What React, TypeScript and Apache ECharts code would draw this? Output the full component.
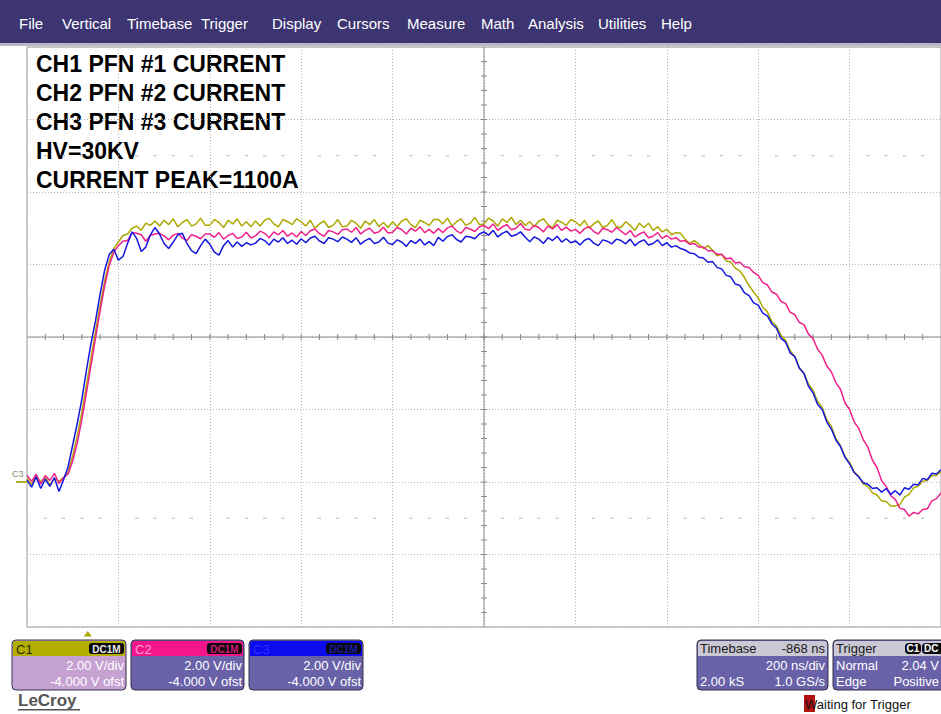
import React, { useEffect, useRef } from "react";
import * as echarts from "echarts";

// ---- sampling / axes ----
const T_STEP_NS = 10; // one sample every 10 ns, t = 0 .. 2000 ns (200 ns/div x 10 div)
const X_MIN = 0;
const X_MAX = 2000;
const X_DIV = 200;
const Y_MIN = -4; // 2 V/div, -4 V offset -> -4 .. 12 V
const Y_MAX = 12;
const Y_DIV = 2;
const X_CENTER = 1000;
const Y_CENTER = 4;
const TRIGGER_T = 133;
const DOT_ROWS = [9, -1];

// ---- channel traces (volts), one value per 10 ns ----
const C1_VALUES = [
  0.1, -0.06, 0.16, 0.0, 0.14, -0.08, 0.1, 0.02, 0.12, 0.28,
  0.72, 1.28, 1.92, 2.66, 3.42, 4.16, 4.88, 5.56, 6.08, 6.44,
  6.62, 6.8, 6.84, 7.0, 7.06, 6.94, 7.14, 7.08, 7.2, 7.06,
  7.22, 7.1, 7.26, 7.04, 7.16, 7.24, 7.06, 7.12, 7.28, 7.08,
  7.08, 7.24, 7.16, 7.02, 7.22, 7.12, 7.26, 7.06, 7.18, 7.04,
  7.2, 7.06, 7.22, 7.28, 7.12, 7.04, 7.24, 7.18, 7.1, 7.26,
  7.18, 7.06, 7.22, 7.0, 7.12, 7.2, 7.02, 7.08, 7.24, 7.04,
  7.06, 7.22, 7.14, 7.0, 7.2, 7.1, 7.24, 7.04, 7.16, 7.02,
  7.18, 7.04, 7.2, 7.26, 7.1, 7.02, 7.22, 7.16, 7.08, 7.24,
  7.24, 7.12, 7.28, 7.06, 7.18, 7.26, 7.08, 7.14, 7.3, 7.1,
  7.12, 7.28, 7.2, 7.06, 7.26, 7.16, 7.3, 7.1, 7.22, 7.08,
  7.18, 7.04, 7.2, 7.26, 7.1, 7.02, 7.22, 7.16, 7.08, 7.24,
  7.18, 7.06, 7.22, 7.0, 7.12, 7.2, 7.02, 7.08, 7.24, 7.04,
  7.02, 7.18, 7.08, 6.94, 7.14, 7.02, 7.14, 6.94, 7.04, 6.9,
  6.97, 6.82, 6.88, 6.86, 6.7, 6.58, 6.66, 6.56, 6.44, 6.52,
  6.4, 6.24, 6.28, 6.1, 6.06, 5.9, 5.82, 5.64, 5.42, 5.24,
  5.08, 4.82, 4.7, 4.42, 4.3, 4.04, 3.9, 3.62, 3.46, 3.16,
  3.0, 2.7, 2.54, 2.22, 2.06, 1.72, 1.54, 1.2, 1.0, 0.7,
  0.54, 0.28, 0.16, -0.06, -0.12, -0.3, -0.36, -0.52, -0.54, -0.66,
  -0.66, -0.62, -0.42, -0.34, -0.16, -0.12, 0.02, 0.04, 0.18, 0.18,
  0.28,
];

const C2_VALUES = [
  0.18, 0.02, 0.22, -0.06, 0.18, 0.04, 0.24, -0.04, 0.12, 0.22,
  0.58, 1.08, 1.72, 2.46, 3.22, 3.98, 4.72, 5.42, 5.98, 6.34,
  6.52, 6.64, 6.66, 6.88, 6.86, 6.82, 6.64, 6.8, 6.84, 6.86,
  6.79, 6.68, 6.81, 6.86, 6.73, 6.66, 6.82, 6.78, 6.71, 6.84,
  6.84, 6.75, 6.88, 6.7, 6.8, 6.86, 6.72, 6.76, 6.89, 6.73,
  6.79, 6.92, 6.86, 6.74, 6.9, 6.82, 6.94, 6.78, 6.87, 6.76,
  6.91, 6.8, 6.93, 6.98, 6.85, 6.78, 6.94, 6.9, 6.83, 6.96,
  6.98, 6.89, 7.02, 6.84, 6.94, 7.0, 6.86, 6.9, 7.03, 6.87,
  6.89, 7.02, 6.96, 6.84, 7.0, 6.92, 7.04, 6.88, 6.97, 6.86,
  6.99, 6.88, 7.01, 7.06, 6.93, 6.86, 7.02, 6.98, 6.91, 7.04,
  7.08, 6.99, 7.12, 6.94, 7.04, 7.1, 6.96, 7.0, 7.13, 6.97,
  6.95, 7.08, 7.02, 6.9, 7.06, 6.98, 7.1, 6.94, 7.03, 6.92,
  6.97, 6.86, 6.99, 7.04, 6.91, 6.84, 7.0, 6.96, 6.89, 7.02,
  6.92, 6.82, 6.94, 6.76, 6.84, 6.9, 6.74, 6.78, 6.88, 6.72,
  6.8, 6.7, 6.74, 6.64, 6.66, 6.56, 6.58, 6.48, 6.48, 6.38,
  6.38, 6.28, 6.28, 6.16, 6.18, 6.04, 6.06, 5.94, 5.92, 5.78,
  5.7, 5.5, 5.44, 5.24, 5.18, 4.98, 4.92, 4.68, 4.62, 4.4,
  4.34, 4.08, 3.96, 3.66, 3.5, 3.2, 3.04, 2.74, 2.56, 2.18,
  2.0, 1.66, 1.48, 1.16, 0.96, 0.6, 0.4, 0.04, -0.12, -0.38,
  -0.48, -0.72, -0.76, -0.94, -0.84, -0.88, -0.76, -0.74, -0.52, -0.46,
  -0.3,
];

const C3_VALUES = [
  0.05, -0.14, 0.14, -0.18, 0.08, -0.12, 0.12, -0.26, 0.06, 0.42,
  1.02, 1.62, 2.28, 3.08, 3.82, 4.45, 5.18, 5.85, 6.28, 6.42,
  6.12, 6.22, 6.58, 6.9, 6.72, 6.36, 6.48, 6.82, 7.02, 6.84,
  6.58, 6.44, 6.62, 6.82, 6.86, 6.58, 6.38, 6.3, 6.52, 6.7,
  6.56, 6.34, 6.26, 6.52, 6.66, 6.48, 6.62, 6.5, 6.6, 6.54,
  6.59, 6.72, 6.66, 6.54, 6.7, 6.62, 6.74, 6.58, 6.67, 6.56,
  6.71, 6.6, 6.73, 6.78, 6.65, 6.58, 6.74, 6.7, 6.63, 6.76,
  6.7, 6.61, 6.74, 6.56, 6.66, 6.72, 6.58, 6.62, 6.75, 6.59,
  6.55, 6.68, 6.62, 6.5, 6.66, 6.58, 6.7, 6.54, 6.63, 6.52,
  6.75, 6.64, 6.77, 6.82, 6.69, 6.62, 6.78, 6.76, 6.71, 6.84,
  6.9, 6.81, 6.94, 6.76, 6.86, 6.92, 6.78, 6.82, 6.9, 6.76,
  6.63, 6.76, 6.7, 6.58, 6.74, 6.66, 6.78, 6.62, 6.71, 6.6,
  6.65, 6.54, 6.67, 6.72, 6.59, 6.52, 6.68, 6.64, 6.57, 6.7,
  6.66, 6.57, 6.7, 6.52, 6.62, 6.68, 6.54, 6.58, 6.68, 6.52,
  6.6, 6.48, 6.52, 6.44, 6.4, 6.32, 6.3, 6.2, 6.18, 6.06,
  6.08, 5.92, 5.88, 5.7, 5.66, 5.46, 5.42, 5.22, 5.14, 4.94,
  4.88, 4.66, 4.58, 4.36, 4.24, 3.96, 3.86, 3.56, 3.46, 3.14,
  3.0, 2.64, 2.46, 2.14, 2.0, 1.66, 1.46, 1.16, 0.98, 0.68,
  0.5, 0.26, 0.14, -0.02, -0.06, -0.18, -0.16, -0.28, -0.18, -0.34,
  -0.24, -0.36, -0.16, -0.2, -0.06, -0.08, 0.1, 0.06, 0.24, 0.22,
  0.34,
];

const CHANNEL_NAMES = ["C1", "C2", "C3"];
const CHANNEL_COLORS = ["#aca800", "#f0208a", "#1515e0"];

// ---- texts ----
const MENU_ITEMS = ["File", "Vertical", "Timebase", "Trigger", "Display", "Cursors", "Measure", "Math", "Analysis", "Utilities", "Help"];
const MENU_X = [19, 62, 127, 201, 272, 337, 407, 481, 528, 598, 661];
const NOTE_LINES = ["CH1 PFN #1 CURRENT", "CH2 PFN #2 CURRENT", "CH3 PFN #3 CURRENT", "HV=30KV", "CURRENT PEAK=1100A"];
const CHANNEL_SCALE = ["2.00 V/div", "2.00 V/div", "2.00 V/div"];
const CHANNEL_OFFSET = ["-4.000 V ofst", "-4.000 V ofst", "-4.000 V ofst"];

const FONT = '"Liberation Sans", Arial, sans-serif';

function toPairs(values: number[]) {
  return values.map((v, i) => [i * T_STEP_NS, v]);
}

function txt(x: number, y: number, text: string, opts: any = {}) {
  return {
    type: "text",
    x,
    y,
    silent: true,
    style: {
      text,
      fill: opts.fill || "#000",
      font: opts.font || `13px ${FONT}`,
      textAlign: opts.align || "left",
      textVerticalAlign: "middle",
    },
  };
}

function channelPanel(i: number, x: number, w: number, headerColor: string, bodyColor: string, labelColor: string, badgeColor: string) {
  const h = 50;
  const hh = 15;
  return {
    type: "group",
    x,
    y: 640,
    children: [
      { type: "rect", shape: { x: 0, y: 0, width: w, height: h, r: 4 }, style: { fill: bodyColor, stroke: "#34304a", lineWidth: 1 } },
      { type: "rect", shape: { x: 1, y: 1, width: w - 2, height: hh, r: [3, 3, 0, 0] }, style: { fill: headerColor } },
      txt(4, 9, CHANNEL_NAMES[i], { fill: labelColor, font: `13px ${FONT}` }),
      { type: "rect", shape: { x: w - 37, y: 3, width: 35, height: 11, r: 3 }, style: { fill: "#0a0a0a" } },
      txt(w - 19.5, 9, "DC1M", { fill: badgeColor, font: `bold 10px ${FONT}`, align: "center" }),
      txt(w - 2, 25.5, CHANNEL_SCALE[i], { fill: "#ffffff", align: "right" }),
      txt(w - 2, 41, CHANNEL_OFFSET[i], { fill: "#ffffff", align: "right" }),
    ],
  };
}

function infoPanel(x: number, w: number, header: any[], body: any[]) {
  return {
    type: "group",
    x,
    y: 640,
    children: [
      { type: "rect", shape: { x: 0, y: 0, width: w, height: 50, r: 4 }, style: { fill: "#6a62a8", stroke: "#34304a", lineWidth: 1 } },
      { type: "rect", shape: { x: 1, y: 1, width: w - 2, height: 15, r: [3, 3, 0, 0] }, style: { fill: "#c9c8d4" } },
      ...header,
      ...body,
    ],
  };
}

export default function App() {
  const ref = useRef<HTMLDivElement>(null);

  useEffect(() => {
    if (!ref.current) return;
    const chart = echarts.init(ref.current, undefined, { renderer: "svg" });

    const reticle = {
      type: "custom",
      name: "reticle",
      silent: true,
      clip: false,
      z: 1,
      data: [[X_CENTER, Y_CENTER]],
      renderItem: (params: any, api: any) => {
        const children: any[] = [];
        const axisStyle = { stroke: "#8a8a8a", lineWidth: 1 };
        const dotStyle = { stroke: "#b0b0b0", lineWidth: 1 };
        const [xl, yc] = api.coord([X_MIN, Y_CENTER]);
        const [xr] = api.coord([X_MAX, Y_CENTER]);
        const [xc, yt] = api.coord([X_CENTER, Y_MAX]);
        const [, yb] = api.coord([X_CENTER, Y_MIN]);
        children.push({ type: "line", shape: { x1: xl, y1: yc, x2: xr, y2: yc }, style: axisStyle });
        children.push({ type: "line", shape: { x1: xc, y1: yt, x2: xc, y2: yb }, style: axisStyle });
        const xMinor = X_DIV / 5;
        for (let t = X_MIN + xMinor; t < X_MAX; t += xMinor) {
          const [x] = api.coord([t, Y_CENTER]);
          children.push({ type: "line", shape: { x1: x, y1: yc - 3, x2: x, y2: yc + 3 }, style: axisStyle });
          if (Math.round(t) % X_DIV !== 0) {
            for (const v of DOT_ROWS) {
              const [, yy] = api.coord([t, v]);
              children.push({ type: "line", shape: { x1: x - 1.5, y1: yy, x2: x + 1.5, y2: yy }, style: dotStyle });
            }
          }
        }
        const yMinor = Y_DIV / 5;
        for (let v = Y_MIN + yMinor; v < Y_MAX - 0.001; v += yMinor) {
          const [, y] = api.coord([X_CENTER, v]);
          children.push({ type: "line", shape: { x1: xc - 3, y1: y, x2: xc + 3, y2: y }, style: axisStyle });
        }
        // channel ground-level marker (0 V) at the left edge
        const [x0, y0] = api.coord([X_MIN, 0]);
        children.push({ type: "line", shape: { x1: x0 - 11, y1: y0, x2: x0, y2: y0 }, style: { stroke: "#b2ae28", lineWidth: 2 } });
        children.push({
          type: "text",
          x: x0 - 15,
          y: y0 - 8,
          style: { text: "C3", fill: "#8a8a66", font: `9px ${FONT}`, textVerticalAlign: "middle" },
        });
        // trigger position marker
        const [xt, ytb] = api.coord([TRIGGER_T, Y_MIN]);
        children.push({
          type: "polygon",
          shape: { points: [[xt, ytb + 4], [xt - 4, ytb + 9.5], [xt + 4, ytb + 9.5]] },
          style: { fill: "#aca800" },
        });
        return { type: "group", children };
      },
    };

    const traces = [C1_VALUES, C2_VALUES, C3_VALUES].map((vals, i) => ({
      type: "line",
      name: CHANNEL_NAMES[i],
      data: toPairs(vals),
      showSymbol: false,
      symbol: "none",
      silent: true,
      z: 2 + i,
      lineStyle: { color: CHANNEL_COLORS[i], width: 1.5 },
      itemStyle: { color: CHANNEL_COLORS[i] },
    }));

    const graphic: any[] = [
      { type: "rect", shape: { x: 0, y: 0, width: 941, height: 43 }, style: { fill: "#3c3572" }, silent: true },
      { type: "rect", shape: { x: 0, y: 43, width: 941, height: 3 }, style: { fill: "#b8b6c8" }, silent: true },
      ...MENU_ITEMS.map((m, i) => txt(MENU_X[i], 23, m, { fill: "#ffffff", font: `15px ${FONT}` })),
      ...NOTE_LINES.map((l, i) => txt(36, 64 + i * 29, l, { fill: "#000000", font: `bold 23px ${FONT}` })),
      channelPanel(0, 12, 114, "#b3ae00", "#c6a2d2", "#2a2a00", "#e8e8e8"),
      channelPanel(1, 131, 113, "#f5168c", "#6a62a8", "#ff9fd0", "#d0187a"),
      channelPanel(2, 249, 114, "#0b0bf0", "#6a62a8", "#3030ff", "#1a1aa8"),
      txt(18, 700, "LeCroy", { fill: "#555555", font: `bold 17px ${FONT}` }),
      { type: "rect", shape: { x: 18, y: 709, width: 62, height: 1.5 }, style: { fill: "#555555" }, silent: true },
      infoPanel(
        697,
        131,
        [txt(3, 8.5, "Timebase", { fill: "#1a1a1a" }), txt(128, 8.5, "-868 ns", { fill: "#1a1a1a", align: "right" })],
        [
          txt(128, 25.5, "200 ns/div", { fill: "#ffffff", align: "right" }),
          txt(3, 41, "2.00 kS", { fill: "#ffffff" }),
          txt(128, 41, "1.0 GS/s", { fill: "#ffffff", align: "right" }),
        ]
      ),
      infoPanel(
        833,
        118,
        [
          txt(3, 8.5, "Trigger", { fill: "#1a1a1a" }),
          { type: "rect", shape: { x: 72, y: 3, width: 16, height: 11, r: 4 }, style: { fill: "#0a0a0a" } },
          txt(80, 8.5, "C1", { fill: "#ffffff", font: `bold 10px ${FONT}`, align: "center" }),
          { type: "rect", shape: { x: 89, y: 3, width: 26, height: 11, r: 4 }, style: { fill: "#0a0a0a" } },
          txt(91, 8.5, "DC", { fill: "#ffffff", font: `bold 10px ${FONT}` }),
        ],
        [
          txt(3, 25.5, "Normal", { fill: "#ffffff" }),
          txt(106, 25.5, "2.04 V", { fill: "#ffffff", align: "right" }),
          txt(3, 41, "Edge", { fill: "#ffffff" }),
          txt(106, 41, "Positive", { fill: "#ffffff", align: "right" }),
        ]
      ),
      { type: "rect", shape: { x: 804, y: 695, width: 11, height: 17 }, style: { fill: "#b01212" }, silent: true },
      txt(805, 704, "Waiting for Trigger", { fill: "#111111" }),
    ];

    chart.setOption({
      animation: false,
      backgroundColor: "#ffffff",
      grid: { left: 27, top: 47, width: 914, height: 580, show: true, borderColor: "#9c9c9c", borderWidth: 1, backgroundColor: "#ffffff" },
      xAxis: {
        type: "value",
        min: X_MIN,
        max: X_MAX,
        interval: X_DIV,
        axisLine: { show: false },
        axisTick: { show: false },
        axisLabel: { show: false },
        splitLine: { show: true, lineStyle: { color: "#b4b4b4", type: [1, 2], width: 1 } },
      },
      yAxis: {
        type: "value",
        min: Y_MIN,
        max: Y_MAX,
        interval: Y_DIV,
        axisLine: { show: false },
        axisTick: { show: false },
        axisLabel: { show: false },
        splitLine: { show: true, lineStyle: { color: "#b4b4b4", type: [1, 2], width: 1 } },
      },
      series: [reticle, ...traces],
      graphic,
    });

    return () => chart.dispose();
  }, []);

  return <div ref={ref} style={{ position: "absolute", left: 0, top: 0, width: 941, height: 714 }} />;
}
